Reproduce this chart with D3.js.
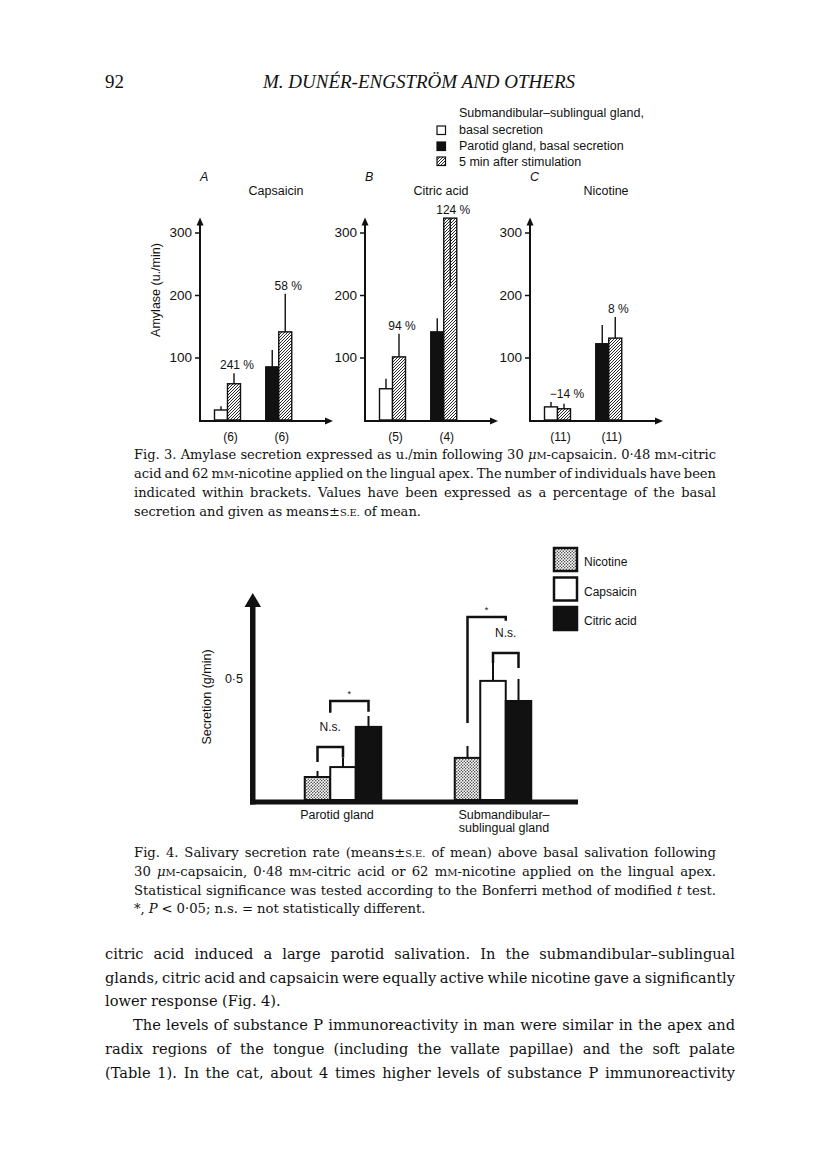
<!DOCTYPE html>
<html>
<head>
<meta charset="utf-8">
<script src="https://cdn.jsdelivr.net/npm/d3@7"></script>
<style>
  html, body { margin: 0; padding: 0; background: #fff; }
  svg { display: block; }
</style>
</head>
<body>
<svg id="page" width="816" height="1155"></svg>
<script>
// === Page 92: Fig. 3 (amylase) and Fig. 4 (secretion rate) ===

// ---- DATA: Fig. 3 ----
const fig3Panels   = ["A", "B", "C"];
const fig3Stimuli  = ["Capsaicin", "Citric acid", "Nicotine"];
const fig3Ticks    = [100, 200, 300];
// amylase u./min, means and S.E.
const subBasal     = [16, 50, 21];
const subBasalSE   = [6, 16, 8];
const subStim      = [58, 101, 18];
const subStimSE    = [17, 37, 8];
const parBasal     = [85, 141, 122];
const parBasalSE   = [27, 22, 30];
const parStim      = [141, 323, 131];
const parStimSE    = [61, 110, 34];
const subPct       = ["241 %", "94 %", "\u221214 %"];
const parPct       = ["58 %", "124 %", "8 %"];
const subN         = ["(6)", "(5)", "(11)"];
const parN         = ["(6)", "(4)", "(11)"];
const fig3Legend   = [
  ["Submandibular\u2013sublingual gland,", "basal secretion"],
  ["Parotid gland, basal secretion"],
  ["5 min after stimulation"]
];

// ---- DATA: Fig. 4 ----
const fig4Glands   = ["Parotid gland", "Submandibular\u2013sublingual gland"];
const fig4GlandLines = [["Parotid gland"], ["Submandibular\u2013", "sublingual gland"]];
const fig4Stimuli  = ["Nicotine", "Capsaicin", "Citric acid"];
const fig4Ticks    = [0.5];
// g/min above basal
const nicotineMean = [0.095, 0.174];
const nicotineSE   = [0.025, 0.049];
const capsaicinMean= [0.136, 0.492];
const capsaicinSE  = [0.037, 0.074];
const citricMean   = [0.302, 0.409];
const citricSE     = [0.045, 0.091];
// significance brackets: bar index (0.5 = between two bars), levels in g/min
const brackets = [
  { gland: 0, from: 0,   to: 1,   top: 0.219, leftEnd: 0.157, rightEnd: 0.174, label: "N.s." },
  { gland: 0, from: 0.5, to: 2,   top: 0.409, leftEnd: 0.360, rightEnd: 0.364, label: "*" },
  { gland: 1, from: 0,   to: 1.5, top: 0.756, leftEnd: 0.318, rightEnd: 0.740, label: "*" },
  { gland: 1, from: 1,   to: 2,   top: 0.607, leftEnd: 0.566, rightEnd: 0.545, label: "N.s." }
];

// ---- TEXT ----
const header = "M. DUN\u00c9R-ENGSTR\u00d6M AND OTHERS";
const pageNo = "92";
// _x_ = italic, ^x^ = small capitals
const caption3 = [
  "Fig. 3. Amylase secretion expressed as u./min following 30 _\u03bc_^m^-capsaicin. 0\u00b748 m^m^-citric",
  "acid and 62 m^m^-nicotine applied on the lingual apex. The number of individuals have been",
  "indicated within brackets. Values have been expressed as a percentage of the basal",
  "secretion and given as means\u00b1^s.e.^ of mean."
];
const caption4 = [
  "Fig. 4. Salivary secretion rate (means\u00b1^s.e.^ of mean) above basal salivation following",
  "30 _\u03bc_^m^-capsaicin, 0\u00b748 m^m^-citric acid or 62 m^m^-nicotine applied on the lingual apex.",
  "Statistical significance was tested according to the Bonferri method of modified _t_ test.",
  "*, _P_ < 0\u00b705; n.s. = not statistically different."
];
const bodyText = [
  "citric acid induced a large parotid salivation. In the submandibular\u2013sublingual",
  "glands, citric acid and capsaicin were equally active while nicotine gave a significantly",
  "lower response (Fig. 4).",
  "The levels of substance P immunoreactivity in man were similar in the apex and",
  "radix regions of the tongue (including the vallate papillae) and the soft palate",
  "(Table 1). In the cat, about 4 times higher levels of substance P immunoreactivity"
];

// ---- STYLE ----
const INK = "#111";
const SANS = "'Liberation Sans', Arial, sans-serif";
const SERIF = "'DejaVu Serif', 'Liberation Serif', serif";
const HEAD_SERIF = "'Liberation Serif', 'Times New Roman', serif";

const svg = d3.select("#page");
svg.append("rect").attr("width", 816).attr("height", 1155).attr("fill", "#fff");

// patterns
const defs = svg.append("defs");
const hatch = defs.append("pattern")
  .attr("id", "hatch").attr("patternUnits", "userSpaceOnUse")
  .attr("width", 3).attr("height", 3);
hatch.append("rect").attr("width", 3).attr("height", 3).attr("fill", "#fff");
hatch.append("path").attr("d", "M-1,1 l2,-2 M0,3 l3,-3 M2,4 l2,-2")
  .attr("stroke", INK).attr("stroke-width", 0.9);

const stip = defs.append("pattern")
  .attr("id", "stipple").attr("patternUnits", "userSpaceOnUse")
  .attr("width", 3).attr("height", 3);
stip.append("rect").attr("width", 3).attr("height", 3).attr("fill", "#fff");
stip.append("circle").attr("cx", 0.75).attr("cy", 0.75).attr("r", 0.75).attr("fill", "#333");
stip.append("circle").attr("cx", 2.25).attr("cy", 2.25).attr("r", 0.75).attr("fill", "#333");

// ---- header ----
svg.append("text").attr("x", 105).attr("y", 88)
  .attr("font-family", HEAD_SERIF).attr("font-size", 19).attr("fill", INK).text(pageNo);
svg.append("text").attr("x", 419).attr("y", 88).attr("text-anchor", "middle")
  .attr("font-family", HEAD_SERIF).attr("font-style", "italic").attr("font-size", 19)
  .attr("fill", INK).text(header);

// ---- Fig. 3 ----
const yAmy = d3.scaleLinear().domain([0, 324]).range([420, 217.5]);
const panelX = d3.scalePoint().domain(fig3Panels).range([200, 530]);
const g3x = d3.scaleBand().domain(["sub", "par"]).range([14.5, 117]);
const b3x = d3.scaleBand().domain(["basal", "stim"]).range([0, 26]);
const bw3 = b3x.bandwidth();

fig3Panels.forEach((p, i) => {
  const g = svg.append("g").attr("transform", `translate(${panelX(p)},0)`);

  const bars = [
    { gland: "sub", kind: "basal", v: subBasal[i], se: subBasalSE[i], fill: "#fff" },
    { gland: "sub", kind: "stim",  v: subStim[i],  se: subStimSE[i],  fill: "url(#hatch)" },
    { gland: "par", kind: "basal", v: parBasal[i], se: parBasalSE[i], fill: INK },
    { gland: "par", kind: "stim",  v: parStim[i],  se: parStimSE[i],  fill: "url(#hatch)" }
  ];
  const bx = d => g3x(d.gland) + b3x(d.kind);
  const ymax = yAmy.domain()[1];
  const errEnd = d => (d.v + d.se > ymax ? d.v - d.se : d.v + d.se);

  g.selectAll("rect.bar").data(bars).join("rect").attr("class", "bar")
    .attr("x", bx).attr("y", d => yAmy(d.v))
    .attr("width", bw3).attr("height", d => yAmy(0) - yAmy(d.v))
    .attr("fill", d => d.fill).attr("stroke", INK).attr("stroke-width", 1.4);

  g.selectAll("line.err").data(bars).join("line").attr("class", "err")
    .attr("x1", d => bx(d) + bw3 / 2).attr("x2", d => bx(d) + bw3 / 2)
    .attr("y1", d => yAmy(d.v)).attr("y2", d => yAmy(errEnd(d)))
    .attr("stroke", INK).attr("stroke-width", 1.4);

  // percentage labels over each pair
  const pct = [
    { gland: "sub", t: subPct[i], top: d3.max(bars.slice(0, 2), d => Math.max(d.v, errEnd(d))) },
    { gland: "par", t: parPct[i], top: d3.max(bars.slice(2), d => Math.max(d.v, errEnd(d))) }
  ];
  g.selectAll("text.pct").data(pct).join("text").attr("class", "pct")
    .attr("x", d => g3x(d.gland) + b3x("stim") + bw3 / 2 + 3)
    .attr("y", d => yAmy(d.top) - 4)
    .attr("text-anchor", "middle").attr("font-family", SANS).attr("font-size", 12)
    .attr("fill", INK).text(d => d.t);

  // number of individuals
  g.selectAll("text.n").data([{ gland: "sub", t: subN[i] }, { gland: "par", t: parN[i] }])
    .join("text").attr("class", "n")
    .attr("x", d => g3x(d.gland) + bw3 + 3).attr("y", 441)
    .attr("text-anchor", "middle").attr("font-family", SANS).attr("font-size", 12)
    .attr("fill", INK).text(d => d.t);

  // axes
  const ax = g.append("g").call(d3.axisLeft(yAmy).tickValues(fig3Ticks).tickSize(5).tickPadding(3));
  ax.select(".domain").remove();
  ax.selectAll(".tick line").attr("stroke", INK).attr("stroke-width", 1.5);
  ax.selectAll(".tick text").attr("font-family", SANS).attr("font-size", 13.5).attr("fill", INK);

  const topY = yAmy(ymax);
  g.append("line").attr("x1", 0).attr("x2", 0).attr("y1", 421).attr("y2", topY + 5)
    .attr("stroke", INK).attr("stroke-width", 2);
  g.append("path").attr("d", `M-3.5,${topY + 8} L0,${topY} L3.5,${topY + 8} Z`).attr("fill", INK);
  g.append("line").attr("x1", -1).attr("x2", 128).attr("y1", 421).attr("y2", 421)
    .attr("stroke", INK).attr("stroke-width", 2);
  g.append("path").attr("d", "M125,417.5 L133,421 L125,424.5 Z").attr("fill", INK);

  // panel letter and title
  g.append("text").attr("x", 0).attr("y", 181).attr("font-family", SANS)
    .attr("font-style", "italic").attr("font-size", 12.5).attr("fill", INK).text(p);
  g.append("text").attr("x", 76).attr("y", 195).attr("text-anchor", "middle")
    .attr("font-family", SANS).attr("font-size", 12.5).attr("fill", INK).text(fig3Stimuli[i]);

  if (i === 0) {
    g.append("text").attr("transform", "translate(-40,290) rotate(-90)")
      .attr("text-anchor", "middle").attr("font-family", SANS).attr("font-size", 12.5)
      .attr("fill", INK).text("Amylase (u./min)");
  }
});

// Fig. 3 legend
const leg3Fill = ["#fff", INK, "url(#hatch)"];
const leg3BoxY = [126, 142, 157];
const leg3TextY = [[117, 134], [150], [166]];
fig3Legend.forEach((lines, i) => {
  svg.append("rect").attr("x", 437).attr("y", leg3BoxY[i]).attr("width", 8.5).attr("height", 8.5)
    .attr("fill", leg3Fill[i]).attr("stroke", INK).attr("stroke-width", 1.2);
  lines.forEach((t, j) => {
    svg.append("text").attr("x", 459).attr("y", leg3TextY[i][j])
      .attr("font-family", SANS).attr("font-size", 12.5).attr("fill", INK).text(t);
  });
});

// ---- Fig. 4 ----
const yS = d3.scaleLinear().domain([0, 0.855]).range([800, 593]);
const g4x = d3.scaleBand().domain(fig4Glands).range([268, 568]);
const b4x = d3.scaleBand().domain(fig4Stimuli).range([0, 76.5]);
const bw4 = b4x.bandwidth();
const fill4 = { "Nicotine": "url(#stipple)", "Capsaicin": "#fff", "Citric acid": INK };
const means4 = [nicotineMean, capsaicinMean, citricMean];
const ses4 = [nicotineSE, capsaicinSE, citricSE];

const bars4 = [];
fig4Glands.forEach((gl, gi) => {
  fig4Stimuli.forEach((s, si) => {
    bars4.push({ gl, gi, s, si, v: means4[si][gi], se: ses4[si][gi] });
  });
});
const x4 = d => g4x(d.gl) + g4x.bandwidth() / 2 - 38.25 + b4x(d.s);
const barCenter = (gi, idx) => {
  const lo = Math.floor(idx), hi = Math.ceil(idx);
  const c = k => g4x(fig4Glands[gi]) + g4x.bandwidth() / 2 - 38.25 + b4x(fig4Stimuli[k]) + bw4 / 2;
  return (c(lo) + c(hi)) / 2;
};

const f4 = svg.append("g");
f4.selectAll("rect.bar").data(bars4).join("rect").attr("class", "bar")
  .attr("x", x4).attr("y", d => yS(d.v))
  .attr("width", bw4).attr("height", d => yS(0) - yS(d.v))
  .attr("fill", d => fill4[d.s]).attr("stroke", INK).attr("stroke-width", 2);
f4.selectAll("line.err").data(bars4).join("line").attr("class", "err")
  .attr("x1", d => x4(d) + bw4 / 2).attr("x2", d => x4(d) + bw4 / 2)
  .attr("y1", d => yS(d.v)).attr("y2", d => yS(d.v + d.se))
  .attr("stroke", INK).attr("stroke-width", 2);

f4.selectAll("path.br").data(brackets).join("path").attr("class", "br")
  .attr("d", d => {
    const xl = barCenter(d.gland, d.from), xr = barCenter(d.gland, d.to);
    return `M${xl},${yS(d.leftEnd)} V${yS(d.top)} H${xr} V${yS(d.rightEnd)}`;
  })
  .attr("fill", "none").attr("stroke", INK).attr("stroke-width", 2.5);
f4.selectAll("text.br").data(brackets).join("text").attr("class", "br")
  .attr("x", d => (barCenter(d.gland, d.from) + barCenter(d.gland, d.to)) / 2)
  .attr("y", d => yS(d.top) - (d.label === "*" ? 4 : 16))
  .attr("text-anchor", "middle").attr("font-family", SANS)
  .attr("font-size", d => (d.label === "*" ? 9 : 12)).attr("fill", INK).text(d => d.label);

// axes
const ax4 = f4.append("g").attr("transform", "translate(253,0)")
  .call(d3.axisLeft(yS).tickValues(fig4Ticks).tickSize(0).tickPadding(10)
    .tickFormat(d => String(d).replace(".", "\u00b7")));
ax4.select(".domain").remove();
ax4.selectAll(".tick text").attr("font-family", SANS).attr("font-size", 12.5).attr("fill", INK);
const top4 = yS(yS.domain()[1]);
f4.append("rect").attr("x", 250).attr("y", top4 + 12).attr("width", 5.5).attr("height", 804.5 - top4 - 12)
  .attr("fill", INK);
f4.append("path").attr("d", `M244.5,${top4 + 14} L252.75,${top4} L261,${top4 + 14} Z`).attr("fill", INK);
f4.append("rect").attr("x", 250).attr("y", 799.5).attr("width", 328).attr("height", 5).attr("fill", INK);

// category labels
const catDx = [-6, 11];
fig4GlandLines.forEach((lines, gi) => {
  lines.forEach((t, j) => {
    f4.append("text").attr("x", g4x(fig4Glands[gi]) + g4x.bandwidth() / 2 + catDx[gi])
      .attr("y", 819 + j * 13).attr("text-anchor", "middle")
      .attr("font-family", SANS).attr("font-size", 12.5).attr("fill", INK).text(t);
  });
});

f4.append("text").attr("transform", "translate(211,697) rotate(-90)")
  .attr("text-anchor", "middle").attr("font-family", SANS).attr("font-size", 12.5)
  .attr("fill", INK).text("Secretion (g/min)");

// legend
fig4Stimuli.forEach((s, i) => {
  f4.append("rect").attr("x", 554).attr("y", 548 + i * 29.5).attr("width", 23).attr("height", 23)
    .attr("fill", fill4[s]).attr("stroke", INK).attr("stroke-width", 2.5);
  f4.append("text").attr("x", 584).attr("y", 566 + i * 29.5)
    .attr("font-family", SANS).attr("font-size", 12).attr("fill", INK).text(s);
});

// ---- justified serif text ----
function parseWord(w) {
  const segs = [];
  const re = /(_[^_]+_|\^[^^]+\^|[^_^]+)/g;
  let m;
  while ((m = re.exec(w))) {
    const s = m[0];
    if (s[0] === "_") segs.push({ t: s.slice(1, -1), it: true });
    else if (s[0] === "^") segs.push({ t: s.slice(1, -1).toUpperCase(), sc: true });
    else segs.push({ t: s });
  }
  return segs;
}

function renderBlock(lines, o, size) {
  const block = svg.append("g");
  const rows = lines.map((line, i) => {
    const y = o.y0 + i * o.lh;
    const left = o.x0 + (o.indent[i] || 0);
    const words = line.split(" ");
    const nodes = words.map(w => {
      const t = block.append("text").attr("y", y).attr("font-family", SERIF)
        .attr("font-size", size).attr("fill", INK);
      t.selectAll("tspan").data(parseWord(w)).join("tspan")
        .text(d => d.t)
        .attr("font-style", d => (d.it ? "italic" : null))
        .attr("font-size", d => (d.sc ? size * 0.76 : null));
      return t;
    });
    const widths = nodes.map(n => n.node().getComputedTextLength());
    return { left, nodes, widths, n: words.length, total: d3.sum(widths), justify: o.justify[i] };
  });
  return { block, rows };
}

function textBlock(lines, o) {
  let size = o.size;
  let r = renderBlock(lines, o, size);
  // shrink the block if a justified line would not fit with a minimal word gap
  const fit = d3.min(r.rows.filter(d => d.justify),
    d => (o.x1 - d.left - (d.n - 1) * size * 0.22) / d.total);
  if (fit < 1) {
    r.block.remove();
    size = size * fit;
    r = renderBlock(lines, o, size);
  }
  r.rows.forEach(d => {
    const gap = d.justify && d.n > 1 ? (o.x1 - d.left - d.total) / (d.n - 1) : size * 0.3;
    let x = d.left;
    d.nodes.forEach((n, j) => { n.attr("x", x); x += d.widths[j] + gap; });
  });
}

textBlock(caption3, { x0: 134, x1: 716, y0: 459, lh: 19, size: 13.2,
  indent: [], justify: [true, true, true, false] });
textBlock(caption4, { x0: 134, x1: 716, y0: 857, lh: 18.8, size: 13.2,
  indent: [], justify: [true, true, true, false] });
textBlock(bodyText, { x0: 105, x1: 735, y0: 959, lh: 23.7, size: 14.6,
  indent: [0, 0, 0, 28, 0, 0], justify: [true, true, false, true, true, true] });
</script>
</body>
</html>
